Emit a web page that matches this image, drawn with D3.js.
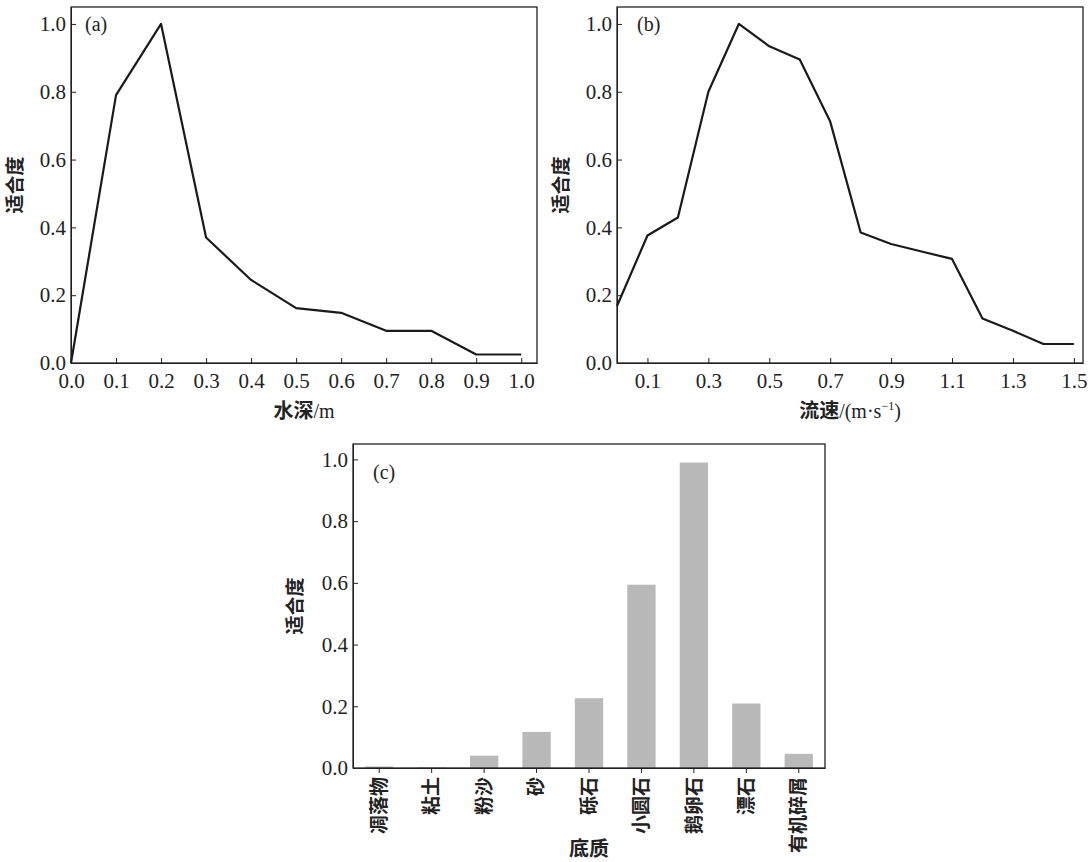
<!DOCTYPE html>
<html>
<head>
<meta charset="utf-8">
<script src="https://cdn.jsdelivr.net/npm/d3@7"></script>
<style>
  body { margin: 0; background: #fff; }
  svg { display: block; }
  .tick text { font-family: 'Liberation Serif', serif; font-size: 21px; fill: #222; }
  .tick line, .domain { stroke: #222; }
</style>
</head>
<body>
<div id="chart"></div>
<script>
// (a) habitat suitability vs water depth
const depthX = [0.0, 0.1, 0.2, 0.3, 0.4, 0.5, 0.6, 0.7, 0.8, 0.9, 1.0];
const depthY = [0.0, 0.79, 1.0, 0.37, 0.245, 0.162, 0.148, 0.095, 0.095, 0.025, 0.025];
const depthTicks = [0.0, 0.1, 0.2, 0.3, 0.4, 0.5, 0.6, 0.7, 0.8, 0.9, 1.0];

// (b) suitability vs flow velocity
const velX = [0.0, 0.1, 0.2, 0.3, 0.4, 0.5, 0.6, 0.7, 0.8, 0.9, 1.0, 1.1, 1.2, 1.3, 1.4, 1.5];
const velY = [0.168, 0.376, 0.429, 0.80, 1.0, 0.934, 0.895, 0.712, 0.385, 0.351, 0.329, 0.307, 0.131, 0.095, 0.056, 0.056];
const velTicks = [0.1, 0.3, 0.5, 0.7, 0.9, 1.1, 1.3, 1.5];

// (c) suitability by substrate
const substrates = ['凋落物', '粘土', '粉沙', '砂', '砾石', '小圆石', '鹅卵石', '漂石', '有机碎屑'];
const substrateY = [0.005, 0.002, 0.04, 0.117, 0.226, 0.594, 0.99, 0.209, 0.046];

const yTicks = [0.0, 0.2, 0.4, 0.6, 0.8, 1.0];
const yLabel = '适合度';

const width = 1092, height = 862;
const cjk = "'Noto Sans CJK SC', sans-serif";
const serif = "'Liberation Serif', serif";

const svg = d3.select('#chart').append('svg')
  .attr('width', width)
  .attr('height', height);

function yTitle(x, y) {
  svg.append('text')
    .attr('transform', `translate(${x},${y}) rotate(-90)`)
    .attr('text-anchor', 'middle')
    .style('font-family', cjk)
    .style('font-size', '19px')
    .style('font-weight', 'bold')
    .attr('fill', '#222')
    .text(yLabel);
}

function panelTag(x, y, s) {
  svg.append('text')
    .attr('x', x).attr('y', y)
    .style('font-family', serif)
    .style('font-size', '20px')
    .attr('fill', '#222')
    .text(s);
}

function frame(b) {
  svg.append('rect')
    .attr('x', b.left).attr('y', b.top)
    .attr('width', b.right - b.left).attr('height', b.bottom - b.top)
    .attr('fill', 'none')
    .attr('stroke', '#222')
    .attr('stroke-width', 1.3);
}

function drawLinePanel(b, xs, ys, xMax, xTicks) {
  const x = d3.scaleLinear().domain([0, xMax]).range([b.left, b.right]);
  const y = d3.scaleLinear().domain([0, 1.05]).range([b.bottom, b.top]);

  svg.append('g')
    .attr('transform', `translate(0,${b.bottom})`)
    .call(d3.axisBottom(x).tickValues(xTicks).tickFormat(d3.format('.1f'))
      .tickSizeInner(-5).tickSizeOuter(0).tickPadding(10));

  svg.append('g')
    .attr('transform', `translate(${b.left},0)`)
    .call(d3.axisLeft(y).tickValues(yTicks).tickFormat(d3.format('.1f'))
      .tickSizeInner(-5).tickSizeOuter(0).tickPadding(5));

  frame(b);

  const line = d3.line()
    .x((d) => x(d[0]))
    .y((d) => y(d[1]));
  svg.append('path')
    .datum(xs.map((v, i) => [v, ys[i]]))
    .attr('fill', 'none')
    .attr('stroke', '#1a1a1a')
    .attr('stroke-width', 2.2)
    .attr('stroke-linejoin', 'round')
    .attr('d', line);
}

// panel (a)
const A = { left: 71, right: 537, top: 7, bottom: 363 };
drawLinePanel(A, depthX, depthY, 1.035, depthTicks);
yTitle(22, 185);
panelTag(85, 31, '(a)');
svg.append('text')
  .attr('x', (A.left + A.right) / 2).attr('y', 418)
  .attr('text-anchor', 'middle')
  .attr('fill', '#222')
  .style('font-size', '20px')
  .call((t) => {
    t.append('tspan').style('font-family', cjk).style('font-weight', 'bold').text('水深');
    t.append('tspan').style('font-family', serif).text('/m');
  });

// panel (b)
const B = { left: 617, right: 1083, top: 7, bottom: 363 };
drawLinePanel(B, velX, velY, 1.53, velTicks);
yTitle(568, 185);
panelTag(637, 31, '(b)');
svg.append('text')
  .attr('x', (B.left + B.right) / 2).attr('y', 418)
  .attr('text-anchor', 'middle')
  .attr('fill', '#222')
  .style('font-size', '20px')
  .call((t) => {
    t.append('tspan').style('font-family', cjk).style('font-weight', 'bold').text('流速');
    t.append('tspan').style('font-family', serif).text('/(m·s');
    t.append('tspan').style('font-family', serif).style('font-size', '12px').attr('dy', -8).text('−1');
    t.append('tspan').style('font-family', serif).attr('dy', 8).text(')');
  });

// panel (c)
const C = { left: 353, right: 825, top: 444, bottom: 768 };
const xc = d3.scaleBand().domain(substrates).range([C.left, C.right]).paddingInner(0.46).paddingOuter(0.23);
const yc = d3.scaleLinear().domain([0, 1.05]).range([C.bottom, C.top]);

svg.append('g')
  .selectAll('rect')
  .data(substrates)
  .join('rect')
  .attr('x', (d) => xc(d))
  .attr('y', (d, i) => yc(substrateY[i]))
  .attr('width', xc.bandwidth())
  .attr('height', (d, i) => C.bottom - yc(substrateY[i]))
  .attr('fill', '#b9b9b9');

const xAxisC = svg.append('g')
  .attr('transform', `translate(0,${C.bottom})`)
  .call(d3.axisBottom(xc).tickSizeInner(5).tickSizeOuter(0).tickPadding(8));
xAxisC.selectAll('.tick text')
  .style('font-family', cjk)
  .style('font-size', '19px')
  .style('font-weight', 'bold')
  .attr('text-anchor', 'end')
  .attr('dy', '0.35em')
  .attr('transform', 'rotate(-90)')
  .attr('x', -9)
  .attr('y', 0);

svg.append('g')
  .attr('transform', `translate(${C.left},0)`)
  .call(d3.axisLeft(yc).tickValues(yTicks).tickFormat(d3.format('.1f'))
    .tickSizeInner(-5).tickSizeOuter(0).tickPadding(5));

frame(C);
yTitle(302, 606);
panelTag(373, 479, '(c)');
svg.append('text')
  .attr('x', (C.left + C.right) / 2).attr('y', 856)
  .attr('text-anchor', 'middle')
  .attr('fill', '#222')
  .style('font-family', cjk)
  .style('font-weight', 'bold')
  .style('font-size', '20px')
  .text('底质');
</script>
</body>
</html>
